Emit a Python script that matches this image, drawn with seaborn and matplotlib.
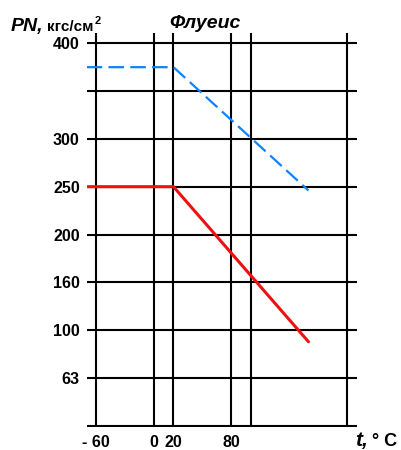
import numpy as np
import pandas as pd
import seaborn as sns
import matplotlib.pyplot as plt

# chart data
temps = [-70, 20, 160]                    # t, °C
pn_dashed = [375, 375, 246]               # upper (blue dashed) curve, kgf/cm2
pn_solid = [250, 250, 91]                 # lower (red) curve, kgf/cm2

# axis ticks
x_ticks = [-60, 0, 20, 80, 100, 200]
x_labels = ["- 60", "0", "20", "80", "", ""]
y_levels = [40, 63, 100, 160, 200, 250, 300, 350, 400]
y_labels = ["", "63", "100", "160", "200", "250", "300", "", "400"]

sns.set_style("white")
plt.rcParams["font.family"] = ["Liberation Sans", "DejaVu Sans"]
plt.rcParams["text.color"] = "black"

# the pressure axis is evenly spaced by level, not linear
lev_ext = np.array([0] + y_levels + [500], dtype=float)
idx_ext = np.arange(-1, len(y_levels) + 1, dtype=float)


def fwd(p):
    return np.interp(p, lev_ext, idx_ext)


def inv(i):
    return np.interp(i, idx_ext, lev_ext)


fig = plt.figure(figsize=(4.02, 4.5), dpi=100)
ax = fig.add_axes([86.7 / 402, 1 - 426.7 / 450, 270 / 402, (426.7 - 33) / 450])

df = pd.DataFrame({"t": temps, "dashed": pn_dashed, "solid": pn_solid})
sns.lineplot(data=df, x="t", y="dashed", ax=ax, color="#0a84ff",
             linewidth=1.6, linestyle=(0, (7, 2.8)))
sns.lineplot(data=df, x="t", y="solid", ax=ax, color="#ee1111",
             linewidth=2.2)

ax.set_yscale("function", functions=(fwd, inv))
ax.set_xlim(-70, 210)
ax.set_ylim(inv(-0.02), inv(8.215))

ax.set_xticks(x_ticks)
ax.set_xticklabels(x_labels, fontsize=11.5, fontweight="bold")
ax.set_yticks(y_levels)
ax.set_yticklabels(y_labels, fontsize=11.5, fontweight="bold")
ax.yaxis.set_minor_locator(plt.NullLocator())
ax.tick_params(axis="both", length=0, labelcolor="black")
ax.tick_params(axis="y", pad=5)
ax.tick_params(axis="x", pad=6)
ax.grid(True, color="black", linewidth=1.5)
for s in ax.spines.values():
    s.set_visible(False)
ax.set_xlabel("")
ax.set_ylabel("")

# titles / axis names
fig.text(11 / 402, 1 - 31 / 450, "PN,", fontsize=14, fontweight="bold",
         fontstyle="italic")
fig.text(47 / 402, 1 - 31 / 450, "кгс/см", fontsize=11, fontweight="bold")
fig.text(95 / 402, 1 - 24 / 450, "2", fontsize=8, fontweight="bold")
fig.text(205 / 402, 1 - 28 / 450, "Флуеис", fontsize=14, fontweight="bold",
         fontstyle="italic", ha="center")
fig.text(355 / 402, 1 - 446 / 450, "t,", fontsize=15, fontweight="bold",
         fontstyle="italic")
fig.text(372 / 402, 1 - 446 / 450, "° C", fontsize=13, fontweight="bold")

fig.savefig("out.png", dpi=100)
